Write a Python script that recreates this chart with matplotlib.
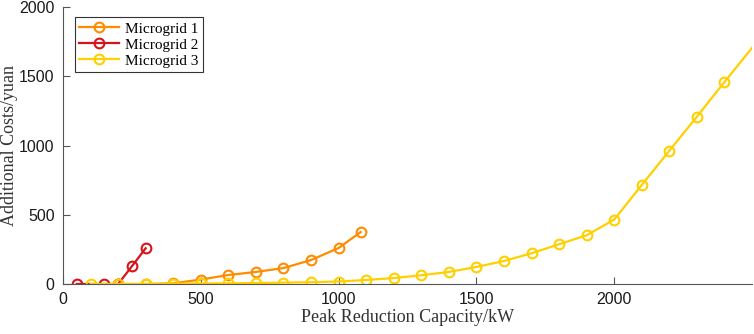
#!/usr/bin/env python3
"""Additional costs vs peak reduction capacity for three microgrids."""

import matplotlib
matplotlib.use("Agg")
import matplotlib.pyplot as plt

# Microgrid 1
mg1_x = [200, 300, 400, 500, 600, 700, 800, 900, 1000, 1080]
mg1_y = [0, 0, 5, 32, 65, 87, 115, 173, 260, 375]

# Microgrid 2
mg2_x = [50, 150, 200, 250, 300]
mg2_y = [0, 0, 0, 128, 258]

# Microgrid 3 (last point sits on the right edge of the frame)
mg3_x = [100, 200, 300, 400, 500, 600, 700, 800, 900, 1000, 1100, 1200,
         1300, 1400, 1500, 1600, 1700, 1800, 1900, 2000, 2100, 2200, 2300,
         2400, 2500]
mg3_y = [0, 0, 0, 2, 4, 5, 7, 10, 13, 18, 29, 43, 63, 87, 123, 166, 222,
         287, 352, 465, 715, 962, 1208, 1458, 1705]

colors = {'mg1': '#FF8C00', 'mg2': '#D7141C', 'mg3': '#FFD000'}

fig = plt.figure(figsize=(7.54, 3.34), dpi=100)
ax = fig.add_axes([63 / 754, 50 / 334, 689 / 754, 277 / 334])

style = dict(marker='o', markerfacecolor='none', markersize=7,
             markeredgewidth=1.5, linewidth=1.6)
ax.plot(mg1_x, mg1_y, color=colors['mg1'], label='Microgrid 1', **style)
ax.plot(mg2_x, mg2_y, color=colors['mg2'], label='Microgrid 2', **style)
ax.plot(mg3_x, mg3_y, color=colors['mg3'], label='Microgrid 3',
        markevery=slice(0, len(mg3_x) - 1), **style)

ax.set_xlim(0, 2500)
ax.set_ylim(0, 2000)
ax.set_xticks([0, 500, 1000, 1500, 2000])
ax.set_yticks([0, 500, 1000, 1500, 2000])

for side in ['top', 'right']:
    ax.spines[side].set_visible(False)
for side in ['left', 'bottom']:
    ax.spines[side].set_color('#555555')
    ax.spines[side].set_linewidth(0.8)
ax.tick_params(axis='both', direction='in', length=5, width=0.8,
               color='#555555', labelsize=11.5, labelcolor='#1a1a1a')
ax.tick_params(axis='x', pad=6)
ax.tick_params(axis='y', pad=6)
for lbl in ax.get_xticklabels() + ax.get_yticklabels():
    lbl.set_fontfamily('Liberation Sans')

serif = 'Liberation Serif'
ax.set_xlabel('Peak Reduction Capacity/kW', fontsize=13, family=serif,
              color='#333333', labelpad=1)
ax.set_ylabel('Additional Costs/yuan', fontsize=13, family=serif,
              color='#333333')
ax.yaxis.set_label_coords(-0.066, 0.5)

leg = ax.legend(loc='upper left', bbox_to_anchor=(0.006, 0.99),
                prop={'family': serif, 'size': 11}, frameon=True,
                fancybox=False, edgecolor='#333333', framealpha=1,
                borderpad=0.3, labelspacing=0.15, handlelength=2.6,
                handletextpad=0.4)
leg.get_frame().set_linewidth(0.8)

fig.savefig('out.png', dpi=100)
